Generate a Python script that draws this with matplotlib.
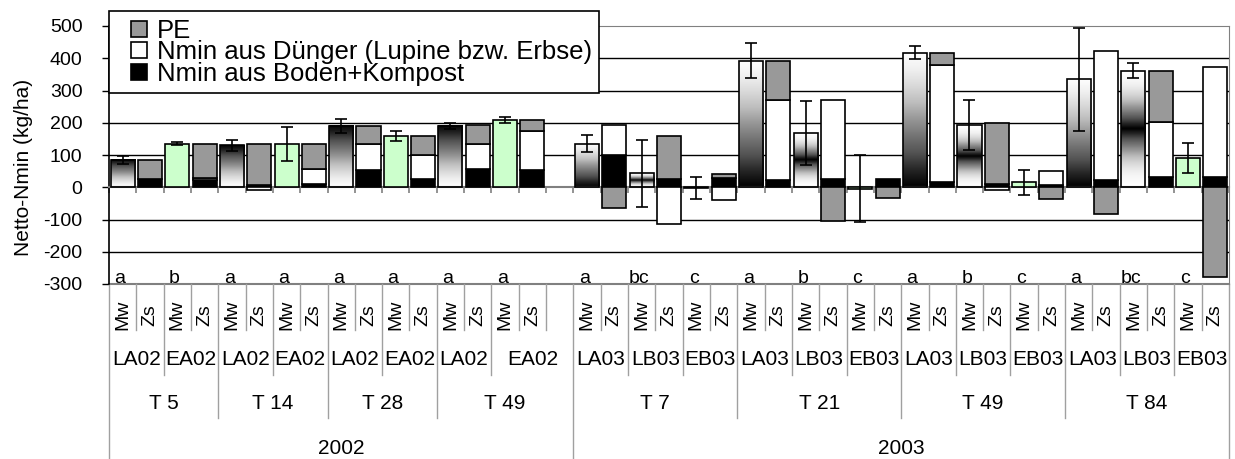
import numpy as np
import matplotlib.pyplot as plt
import matplotlib.transforms as mtransforms
from matplotlib.lines import Line2D

plt.rcParams['font.family'] = ['Liberation Sans', 'DejaVu Sans']
plt.rcParams['axes.unicode_minus'] = False

# Kategorien
years = ['2002', '2003']
times = {'2002': ['T 5', 'T 14', 'T 28', 'T 49'],
         '2003': ['T 7', 'T 21', 'T 49', 'T 84']}
variants = {'2002': ['LA02', 'EA02'],
            '2003': ['LA03', 'LB03', 'EB03']}
empty_after = {'2002': 1, '2003': 0}

# Mw: Messwerte (Mittelwert, Fehler), Reihenfolge Jahr -> T -> Variante
mw_mean = [85, 135, 130, 135, 190, 158, 190, 208,
           135, 43, -3, 393, 168, -5, 417, 192, 15, 335, 362, 90]
mw_err = [13, 5, 17, 53, 22, 15, 8, 10,
          27, 103, 34, 53, 100, 104, 20, 78, 40, 160, 24, 47]
letters = ['a', 'b', 'a', 'a', 'a', 'a', 'a', 'a',
           'a', 'bc', 'c', 'a', 'b', 'c', 'a', 'b', 'c', 'a', 'bc', 'c']

# Zs: Simulation, gestapelt
zs_boden = [26, 22, 8, 10, 55, 26, 57, 55,
            101, 27, 29, 21, 26, 26, 16, 10, 8, 22, 31, 31]
zs_duenger = [0, 7, -10, 48, 78, 73, 78, 118,
              93, -113, -38, 249, 243, 0, 362, -9, 42, 400, 172, 341]
zs_pe = [58, 106, 127, 77, 57, 61, 57, 35,
         -64, 133, 12, 123, -104, -34, 39, 188, -35, -83, 159, -277]

# Balkenstil je Variante
style = {'LA02': 'up', 'EA02': 'green', 'LA03': 'down', 'LB03': 'mid', 'EB03': 'green'}

# --- Positionen aufbauen ---
pairs = []          # (year, t, variant, mw_x)
t_spans = []        # (label, start, end)
v_spans = []
year_spans = []
pos = 0
for y in years:
    y0 = pos
    for t in times[y]:
        t0 = pos
        for v in variants[y]:
            pairs.append((y, t, v, pos))
            v_spans.append([v, pos, pos + 2])
            pos += 2
        t_spans.append([t, t0, pos])
    pos += empty_after[y]
    t_spans[-1][2] = pos
    v_spans[-1][2] = pos
    year_spans.append([y, y0, pos])
n_slots = pos

fig = plt.figure(figsize=(12.35, 4.59), dpi=100)
ax = fig.add_axes([109 / 1235, 1 - 284 / 459, 1120 / 1235, 258 / 459])

w = 0.88
green = '#ccffcc'
grey = '#999999'

for v_ in [-300, -200, -100, 100, 200, 300, 400]:
    ax.axhline(v_, color='black', lw=1, zorder=0.5)

n = 256
tt = np.linspace(0, 1, n)
for i, (y, t, v, x) in enumerate(pairs):
    h = mw_mean[i]
    st = style[v]
    if st == 'green':
        ax.bar(x, h, w, color=green, edgecolor='black', lw=1.2, zorder=3)
    else:
        if st == 'up':
            d = tt
        elif st == 'down':
            d = 1 - tt
        else:
            d = (1 - np.abs(2 * tt - 1)) ** 1.5
        ax.imshow(d[:, None], cmap='Greys', vmin=0, vmax=1, origin='lower',
                  extent=[x - w / 2, x + w / 2, 0, h], aspect='auto',
                  interpolation='bilinear', zorder=2)
        ax.bar(x, h, w, facecolor='none', edgecolor='black', lw=1.2, zorder=3)
    ax.errorbar(x, h, yerr=mw_err[i], fmt='none', ecolor='black',
                elinewidth=1.2, capsize=4, capthick=1.2, zorder=4)
    ax.text(x - 0.1, -297, letters[i], ha='center', va='baseline', fontsize=14)

    # gestapelter Zs-Balken
    xz = x + 1
    top, bot = 0, 0
    for val, col in [(zs_boden[i], 'black'), (zs_duenger[i], 'white'), (zs_pe[i], grey)]:
        if val == 0:
            continue
        if val > 0:
            ax.bar(xz, val, w, bottom=top, color=col, edgecolor='black', lw=1.2, zorder=3)
            top += val
        else:
            ax.bar(xz, val, w, bottom=bot, color=col, edgecolor='black', lw=1.2, zorder=3)
            bot += val

ax.set_xlim(-0.5, n_slots - 0.5)
ax.set_ylim(-300, 500)
ax.set_yticks(range(-300, 501, 100))
ax.tick_params(axis='y', direction='out', length=5, width=1, pad=14, labelsize=14)
ax.spines['bottom'].set_position(('data', 0))
ax.spines['bottom'].set_color('#808080')
ax.spines['bottom'].set_linewidth(1.5)
ax.spines['bottom'].set_zorder(2.5)
ax.set_xticks(np.arange(-0.5, n_slots, 1))
ax.tick_params(axis='x', direction='out', length=4, width=1.2, color='#808080',
               labelbottom=False)
for s in ['top', 'right']:
    ax.spines[s].set_color('#808080')
ax.spines['left'].set_linewidth(1.2)
ax.set_ylabel('Netto-Nmin (kg/ha)', fontsize=15)
ax.yaxis.set_label_coords(-0.068, 0.452)
ax.axhline(-300, color='#808080', lw=1.5, zorder=1, clip_on=False)

# --- mehrstufige Kategorienachse ---
tr = mtransforms.blended_transform_factory(ax.transData, ax.transAxes)
depth = {1: -0.178, 2: -0.353, 3: -0.519, 4: -0.70}
row_y = {1: -0.120, 2: -0.291, 3: -0.465, 4: -0.636}
level = {b: 1 for b in range(n_slots + 1)}
for _, a, b in v_spans:
    level[a] = max(level[a], 2)
    level[b] = max(level[b], 2)
for _, a, b in t_spans:
    level[a] = max(level[a], 3)
    level[b] = max(level[b], 3)
for _, a, b in year_spans:
    level[a] = 4
    level[b] = 4
for b, lv in level.items():
    ax.plot([b - 0.5, b - 0.5], [0, depth[lv]], transform=tr, color='#a0a0a0',
            lw=1, clip_on=False)

for (y, t, v, x) in pairs:
    ax.text(x, row_y[1], 'Mw', rotation=90, ha='center', va='center',
            fontsize=14, transform=tr)
    ax.text(x + 1, row_y[1], 'Zs', rotation=90, ha='center', va='center',
            fontsize=14, transform=tr)
for lab, a, b in v_spans:
    ax.text((a + b - 1) / 2, row_y[2], lab, ha='center', va='center',
            fontsize=15, transform=tr)
for lab, a, b in t_spans:
    ax.text((a + b - 1) / 2, row_y[3], lab, ha='center', va='center',
            fontsize=15, transform=tr)
for lab, a, b in year_spans:
    ax.text((a + b - 1) / 2, row_y[4], lab, ha='center', va='center',
            fontsize=15, transform=tr)

handles = [Line2D([], [], marker='s', ms=11, mfc=c, mec='black', mew=1.2, ls='none')
           for c in [grey, 'white', 'black']]
labels = ['PE', 'Nmin aus Dünger (Lupine bzw. Erbse)', 'Nmin aus Boden+Kompost']
leg = ax.legend(handles, labels, loc='upper left',
                bbox_to_anchor=(109 / 1235, 1 - 11 / 459), bbox_transform=fig.transFigure,
                borderaxespad=0, fancybox=False, edgecolor='black', framealpha=1,
                fontsize=18.5, handlelength=1.7, handletextpad=-0.15,
                labelspacing=-0.1, borderpad=0.3)
leg.get_frame().set_linewidth(1.2)
leg.set_zorder(10)

fig.savefig('out.png', dpi=100)
